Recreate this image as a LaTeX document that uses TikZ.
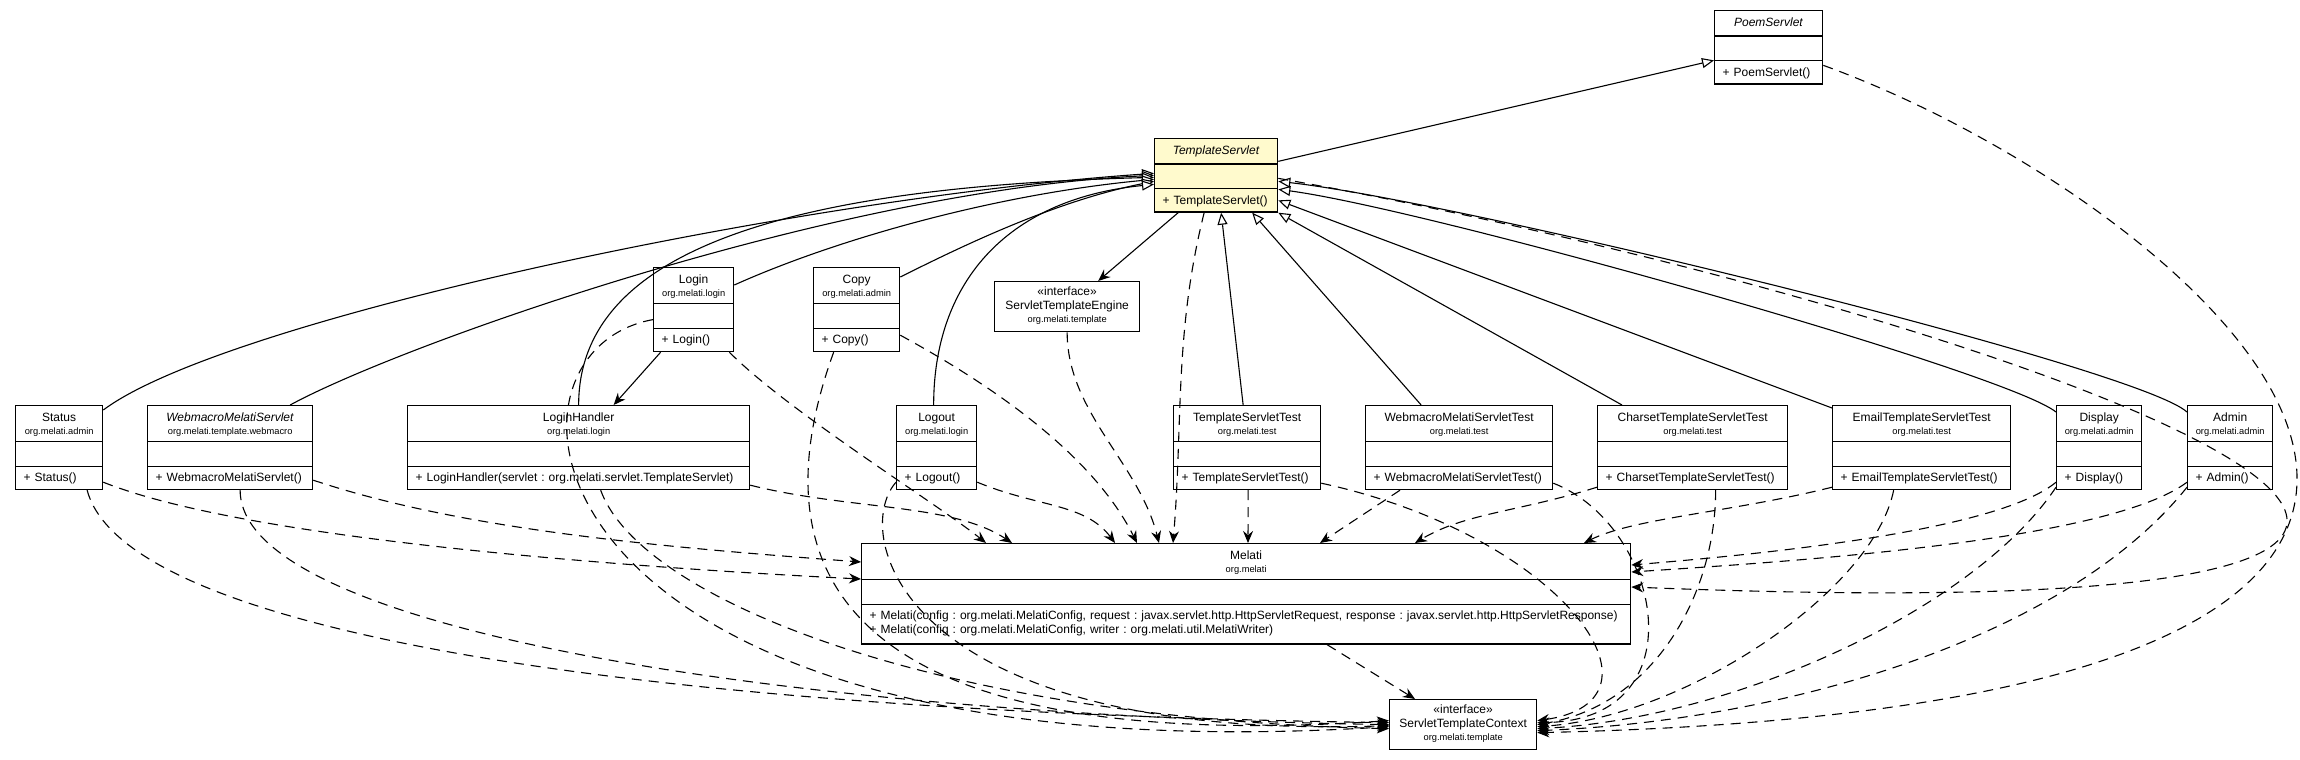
\documentclass[tikz,border=0pt]{standalone}
\usepackage{fontspec}
\setmainfont{Liberation Sans}
\usetikzlibrary{arrows.meta,shapes.multipart}
\definecolor{lemon}{HTML}{FFFACD}
\setlength{\parindent}{0pt}
\newcommand{\clsfont}{\fontsize{12}{13.5}\selectfont\frenchspacing}
\newcommand{\pkg}[1]{{\fontsize{9.3}{10}\selectfont #1}}
\newcommand{\clsname}[2]{\makebox[\linewidth]{\rule{0pt}{15pt}#1}\\\makebox[\linewidth]{\pkg{#2}}\rule[-6pt]{0pt}{6pt}}
\newcommand{\absname}[1]{\makebox[\linewidth]{\rule[-9pt]{0pt}{24pt}\textit{#1}}}
\newcommand{\noattr}{\rule{0pt}{23.5pt}}
\newcommand{\oprow}[1]{\raggedright\rule[-7pt]{0pt}{22pt}\mbox{#1}}
\newcommand{\ifacename}[2]{\rule{0pt}{14pt}«interface»\\#1\\\pkg{#2}\rule[-9pt]{0pt}{9pt}}

\begin{document}
\begin{tikzpicture}[x=1pt, y=-1pt,
    umlclass/.style={rectangle split, rectangle split parts=3, draw, line width=1.3pt,
                     anchor=north west, font=\clsfont,
                     inner xsep=8pt, inner ysep=0pt},
    iface/.style={draw, line width=1.3pt, anchor=north west, font=\clsfont,
                  align=center, inner xsep=8pt, inner ysep=0pt},
    extends/.style={-{Triangle[length=12pt, width=10pt, fill=white]}, line width=1.1pt},
    assoc/.style={-{Stealth[length=12pt, width=10pt, inset=4pt]}, line width=1.1pt},
    dep/.style={assoc, dash pattern=on 10pt off 7pt}
  ]
  \useasboundingbox (0,0) rectangle (2300,760);

  % PoemServlet
  \node[umlclass, text width=92pt] (ps) at (1714,10) {
    \absname{PoemServlet}
    \nodepart{two}\noattr
    \nodepart{three}\oprow{+ PoemServlet()}
  };

  % TemplateServlet
  \node[umlclass, fill=lemon, text width=107pt] (ts) at (1154,138) {
    \absname{TemplateServlet}
    \nodepart{two}\noattr
    \nodepart{three}\oprow{+ TemplateServlet()}
  };

  % ServletTemplateEngine
  \node[iface, text width=129pt] (ste) at (994,281) {\ifacename{ServletTemplateEngine}{org.melati.template}};

  % Login
  \node[umlclass, text width=64pt] (login) at (653,267) {
    \clsname{Login}{org.melati.login}
    \nodepart{two}\noattr
    \nodepart{three}\oprow{+ Login()}
  };

  % Copy
  \node[umlclass, text width=70pt] (copy) at (813,267) {
    \clsname{Copy}{org.melati.admin}
    \nodepart{two}\noattr
    \nodepart{three}\oprow{+ Copy()}
  };

  % Status
  \node[umlclass, text width=71pt] (status) at (15,405) {
    \clsname{Status}{org.melati.admin}
    \nodepart{two}\noattr
    \nodepart{three}\oprow{+ Status()}
  };

  % WebmacroMelatiServlet
  \node[umlclass, text width=149pt] (wms) at (147,405) {
    \clsname{\textit{WebmacroMelatiServlet}}{org.melati.template.webmacro}
    \nodepart{two}\noattr
    \nodepart{three}\oprow{+ WebmacroMelatiServlet()}
  };

  % LoginHandler
  \node[umlclass, text width=326pt] (lh) at (407,405) {
    \clsname{LoginHandler}{org.melati.login}
    \nodepart{two}\noattr
    \nodepart{three}\oprow{+ LoginHandler(servlet : org.melati.servlet.TemplateServlet)}
  };

  % Logout
  \node[umlclass, text width=64pt] (logout) at (896,405) {
    \clsname{Logout}{org.melati.login}
    \nodepart{two}\noattr
    \nodepart{three}\oprow{+ Logout()}
  };

  % tests
  \node[umlclass, text width=131pt] (tst) at (1173,405) {
    \clsname{TemplateServletTest}{org.melati.test}
    \nodepart{two}\noattr
    \nodepart{three}\oprow{+ TemplateServletTest()}
  };
  \node[umlclass, text width=171pt] (wmst) at (1365,405) {
    \clsname{WebmacroMelatiServletTest}{org.melati.test}
    \nodepart{two}\noattr
    \nodepart{three}\oprow{+ WebmacroMelatiServletTest()}
  };
  \node[umlclass, text width=174pt] (cts) at (1597,405) {
    \clsname{CharsetTemplateServletTest}{org.melati.test}
    \nodepart{two}\noattr
    \nodepart{three}\oprow{+ CharsetTemplateServletTest()}
  };
  \node[umlclass, text width=162pt] (ets) at (1832,405) {
    \clsname{EmailTemplateServletTest}{org.melati.test}
    \nodepart{two}\noattr
    \nodepart{three}\oprow{+ EmailTemplateServletTest()}
  };

  % Display, Admin
  \node[umlclass, text width=69pt] (disp) at (2056,405) {
    \clsname{Display}{org.melati.admin}
    \nodepart{two}\noattr
    \nodepart{three}\oprow{+ Display()}
  };
  \node[umlclass, text width=69pt] (admin) at (2187,405) {
    \clsname{Admin}{org.melati.admin}
    \nodepart{two}\noattr
    \nodepart{three}\oprow{+ Admin()}
  };

  % Melati
  \node[umlclass, text width=753pt] (m) at (861,543) {
    \clsname{Melati}{org.melati}
    \nodepart{two}\noattr
    \nodepart{three}\raggedright\rule{0pt}{15pt}\mbox{+ Melati(config : org.melati.MelatiConfig, request : javax.servlet.http.HttpServletRequest, response : javax.servlet.http.HttpServletResponse)}\par
    \mbox{+ Melati(config : org.melati.MelatiConfig, writer : org.melati.util.MelatiWriter)}\rule[-10pt]{0pt}{10pt}
  };

  % ServletTemplateContext
  \node[iface, text width=131pt] (stc) at (1389,699) {\ifacename{ServletTemplateContext}{org.melati.template}};

  % Generalisation
  \draw[extends] ([yshift=14pt]ts.east) -- ([yshift=-13pt]ps.west);
  \draw[extends] ([yshift=-5pt]status.north east) .. controls +(120,-90) and +(-360,25) .. ([yshift=2pt]ts.west);
  \draw[extends] ([xshift=60pt]wms.north) .. controls +(110,-60) and +(-320,15) .. (ts.west);
  \draw[extends] (lh.north) .. controls +(0,-150) and +(-380,10) .. ([yshift=-2pt]ts.west);
  \draw[extends] ([yshift=-18pt]login.north east) .. controls +(100,-45) and +(-160,15) .. ([yshift=-4pt]ts.west);
  \draw[extends] ([yshift=-10pt]copy.north east) .. controls +(60,-30) and +(-100,20) .. ([yshift=-6pt]ts.west);
  \draw[extends] ([xshift=-3pt]logout.north) .. controls +(0,-120) and +(-150,15) .. ([yshift=-9pt]ts.west);
  \draw[extends] ([xshift=-4pt]tst.north) -- ([xshift=5pt]ts.south);
  \draw[extends] ([xshift=-38pt]wmst.north) -- ([xshift=36pt]ts.south);
  \draw[extends] ([xshift=25pt]cts.north west) -- (ts.south east);
  \draw[extends] ([yshift=-3pt]ets.north west) -- ([yshift=-25pt]ts.east);
  \draw[extends] ([yshift=-7pt]disp.north west) .. controls +(-50,-40) and +(150,20) .. ([yshift=-14pt]ts.east);
  \draw[extends] ([yshift=-7pt]admin.north west) .. controls +(-50,-45) and +(180,20) .. ([yshift=-6pt]ts.east);

  % Navigation
  \draw[assoc] ([xshift=-38pt]ts.south) -- ([xshift=31pt]ste.north);
  \draw[assoc] ([xshift=-33pt]login.south) -- ([xshift=35pt]lh.north);

  % Dependencies on Melati
  \draw[dep] ([yshift=8pt]status.south east) .. controls +(150,60) and +(-200,-10) .. ([yshift=-36pt]m.north west);
  \draw[dep] ([yshift=10pt]wms.south east) .. controls +(150,50) and +(-200,-15) .. ([yshift=-19pt]m.north west);
  \draw[dep] ([xshift=-5pt]login.south east) .. controls +(60,60) and +(-50,-40) .. ([xshift=125pt]m.north west);
  \draw[dep] ([yshift=5pt]lh.south east) .. controls +(100,25) and +(-60,-40) .. ([xshift=151pt]m.north west);
  \draw[dep] ([yshift=8pt]logout.south east) .. controls +(60,25) and +(-30,-40) .. ([xshift=254pt]m.north west);
  \draw[dep] ([yshift=17pt]copy.south east) .. controls +(110,60) and +(-40,-80) .. ([xshift=276pt]m.north west);
  \draw[dep] (ste.south) .. controls +(0,80) and +(-20,-80) .. ([xshift=298pt]m.north west);
  \draw[dep] ([xshift=-12pt]ts.south) .. controls +(-30,120) and +(10,-120) .. ([xshift=312pt]m.north west);
  \draw[dep] ([xshift=1pt]tst.south) -- ([xshift=387pt]m.north west);
  \draw[dep] ([xshift=35pt]wmst.south west) -- ([xshift=459pt]m.north west);
  \draw[dep] ([yshift=3pt]cts.south west) .. controls +(-80,25) and +(50,-30) .. ([xshift=554pt]m.north west);
  \draw[dep] ([yshift=3pt]ets.south west) .. controls +(-100,25) and +(50,-25) .. ([xshift=723pt]m.north west);
  \draw[dep] ([yshift=8pt]disp.south west) .. controls +(-60,50) and +(120,-10) .. ([yshift=-22pt]m.north east);
  \draw[dep] ([yshift=8pt]admin.south west) .. controls +(-80,60) and +(150,-10) .. ([yshift=-29pt]m.north east);
  \draw[dep] ([yshift=-3pt]ts.east) .. controls +(700,124) and +(1320,53) .. ([yshift=-44pt]m.north east);

  % Dependencies on ServletTemplateContext
  \draw[dep] ([xshift=28pt]status.south) .. controls +(40,150) and +(-700,-10) .. ([yshift=2pt]stc.west);
  \draw[dep] ([xshift=10pt]wms.south) .. controls +(0,140) and +(-600,-10) .. (stc.west);
  \draw[dep] ([yshift=-10pt]login.west) .. controls +(-183,33) and +(-869,54) .. ([yshift=-2pt]stc.west);
  \draw[dep] ([xshift=22pt]lh.south) .. controls +(40,110) and +(-450,-10) .. ([yshift=-4pt]stc.west);
  \draw[dep] ([xshift=-23pt]copy.south) .. controls +(-63,173) and +(-609,40) .. ([yshift=4pt]stc.west);
  \draw[dep] ([yshift=8pt]logout.south west) .. controls +(-46,52) and +(-489,16) .. ([yshift=-1pt]stc.west);
  \draw[dep] ([xshift=81pt]m.south) -- ([xshift=26pt]stc.north west);
  \draw[dep] ([yshift=7pt]tst.south east) .. controls +(240,52) and +(144,-20) .. ([yshift=4pt]stc.east);
  \draw[dep] ([yshift=7pt]wmst.south east) .. controls +(108,42) and +(164,-2) .. ([yshift=2pt]stc.east);
  \draw[dep] ([xshift=23pt]cts.south) .. controls +(0,100) and +(120,-20) .. (stc.east);
  \draw[dep] ([xshift=-28pt]ets.south) .. controls +(-20,100) and +(150,-10) .. ([yshift=-2pt]stc.east);
  \draw[dep] ([yshift=3pt]disp.south west) .. controls +(-80,120) and +(200,-10) .. ([yshift=-4pt]stc.east);
  \draw[dep] ([yshift=3pt]admin.south west) .. controls +(-120,150) and +(250,-10) .. ([yshift=-6pt]stc.east);
  \draw[dep] ([yshift=-18pt]ps.east) .. controls +(378,137) and +(1250,-28) .. ([yshift=-8pt]stc.east);
\end{tikzpicture}
\end{document}
